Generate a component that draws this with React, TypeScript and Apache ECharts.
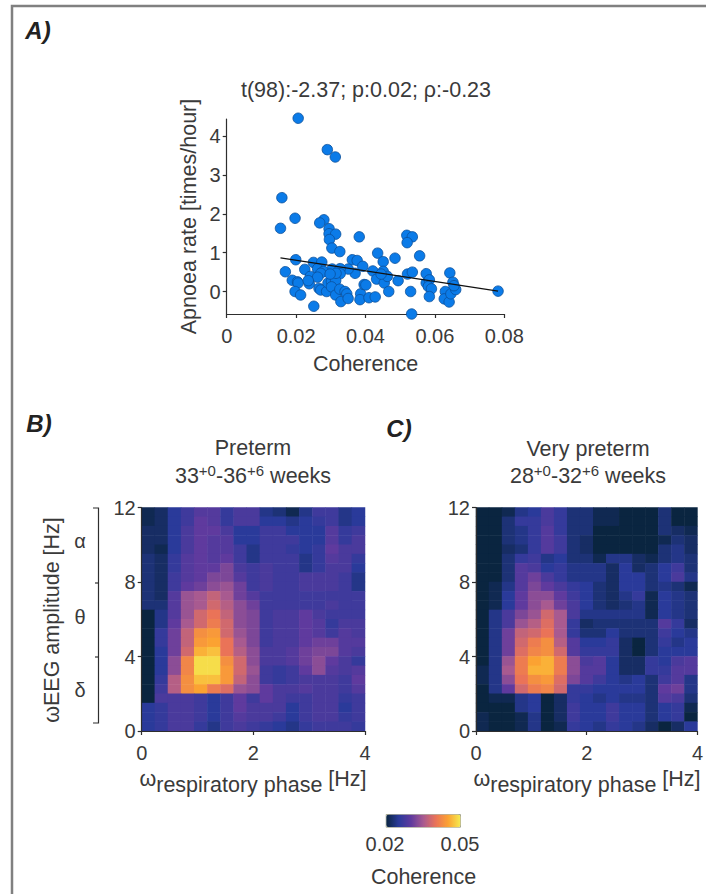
import React, { useEffect, useRef } from "react";
import * as echarts from "echarts";

const coherence = [
  .0206,.029,.0313,.0159,.0155,.0197,.028,.0268,.0295,.0295,.0314,.0296,.0303,.0326,.0382,.0519,.0535,.052,.0435,.0556,
  .0485,.0451,.0199,.025,.0274,.0362,.0376,.0392,.0262,.037,.035,.0304,.0327,.0279,.0271,.0327,.0169,.0225,.0241,.0262,
  .0238,.0189,.0204,.0206,.0197,.0213,.0266,.0271,.0288,.0292,.0302,.0314,.0302,.0314,.0326,.0329,.0341,.0346,.035,.0251,
  .0386,.0384,.041,.0428,.0396,.0401,.0421,.0432,.0451,.0454,.0463,.0467,.0494,.0521,.0535,.053,.0533,.0575,.0575,.0584,
  .0581,.059,.0584,.063,.0627,.0641,.0646,.0643,.0652,.066,.0782,.0315,.0235,.0298,.0445,.0655,
];
const apnoea = [
  4.47,3.66,3.47,2.42,1.63,1.89,1.85,1.77,1.62,1.49,1.48,1.34,1.12,1.03,1.41,1.45,1.41,1.26,.99,.92,
  .86,.77,.82,.75,.76,.82,.8,.65,.59,.47,.58,.58,.59,.52,.47,.46,.51,.57,.39,.37,
  .2,.29,.25,.22,0,-.09,.08,.04,0,.22,.26,.28,.12,-.09,.06,-.26,0,-.06,-.18,-.38,
  -.06,-.21,-.16,-.14,.18,.17,.53,.32,.52,.22,.39,0,.28,.45,.5,0,-.58,.46,.22,.3,
  .13,.07,-.13,0,-.19,-.27,-.06,.48,.24,.05,.01,.47,.28,.45,.45,.15,
];
const fitLine = [[.0155, .87], [.0782, .01]];
const scatterXTicks = [0, .02, .04, .06, .08];
const scatterYTicks = [0, 1, 2, 3, 4];
const hzXTicks = [0, 2, 4];
const hzYTicks = [0, 4, 8, 12];
const colorStops = ["#0a2540", "#2a3a9a", "#5f3a9e", "#a85a90", "#ea7358", "#fba232", "#f5ec50"];

// rows from 12 Hz (top) to 0 Hz (bottom), coherence x 1000
const pretermRows = [
  [21,22,25,27,29,29,26,28,28,24,23,21,24,27,27,24,25],
  [21,22,25,27,30,29,26,28,28,25,25,24,25,26,27,24,25],
  [22,22,25,28,30,30,28,25,25,27,27,25,25,25,29,26,27],
  [22,22,25,28,30,29,29,25,25,27,27,27,25,25,29,26,28],
  [22,21,25,28,30,29,29,27,24,27,27,26,25,26,30,28,28],
  [23,22,26,29,30,29,30,27,24,27,27,27,24,26,29,28,26],
  [23,22,26,29,30,30,32,28,27,28,27,27,24,26,28,28,25],
  [23,22,27,29,30,32,32,29,27,28,27,27,28,28,28,27,24],
  [23,22,27,30,31,33,34,31,27,28,27,27,28,28,28,27,24],
  [23,22,29,34,35,37,35,31,29,27,27,27,27,27,27,27,27],
  [23,23,29,34,35,38,36,33,31,27,27,27,27,27,28,27,27],
  [20,24,29,34,38,40,37,33,32,27,28,28,30,28,27,27,27],
  [20,24,30,35,38,41,38,33,32,27,28,28,30,29,26,28,28],
  [20,26,31,37,43,44,38,34,32,27,28,28,30,29,27,29,28],
  [20,26,31,37,44,45,40,35,32,27,28,28,30,31,31,29,29],
  [20,25,31,38,46,47,40,36,33,28,28,29,31,32,32,29,28],
  [20,25,33,42,49,49,43,38,33,28,28,29,31,33,30,28,26],
  [20,25,33,42,49,49,44,38,34,27,26,27,30,33,29,28,29],
  [20,26,36,43,47,47,44,37,33,27,26,27,28,28,28,27,30],
  [20,27,36,43,45,41,39,34,33,30,28,28,29,28,28,27,29],
  [20,28,28,28,27,25,27,30,27,30,28,27,27,28,28,26,27],
  [25,26,28,28,27,25,27,30,28,28,28,25,27,28,28,25,27],
  [25,26,28,28,27,25,27,29,28,28,27,25,27,28,28,26,27],
  [25,26,28,28,26,24,27,28,27,26,25,24,26,27,27,27,26],
];
const veryPretermRows = [
  [20,20,21,24,25,28,26,23,23,21,21,20,20,20,23,20,20],
  [20,20,23,26,26,28,26,23,23,21,21,20,20,20,23,20,20],
  [20,20,23,24,26,29,26,23,23,20,20,20,20,20,23,22,21],
  [20,20,23,24,26,29,27,23,22,20,20,20,20,20,21,23,22],
  [20,20,22,23,26,29,27,23,22,20,20,20,20,20,23,24,22],
  [20,20,23,26,27,24,25,23,23,21,24,24,22,21,23,24,23],
  [20,20,23,29,28,25,26,24,24,24,22,25,22,23,25,27,23],
  [20,20,23,29,31,28,26,24,24,24,22,25,25,23,25,28,24],
  [20,21,24,29,32,30,28,26,25,23,22,25,25,23,24,23,21],
  [20,21,25,30,33,33,30,27,25,23,22,24,26,21,25,24,23],
  [20,21,25,30,33,35,31,28,25,23,22,23,24,21,25,24,23],
  [20,24,28,32,34,38,35,28,24,24,24,24,24,21,25,24,23],
  [20,24,28,34,36,39,35,26,22,23,23,23,23,23,29,26,22],
  [20,24,31,37,38,40,35,26,23,23,25,23,23,23,27,25,24],
  [20,24,31,38,41,43,36,29,25,25,26,22,20,23,26,24,25],
  [20,24,31,39,42,43,38,29,26,26,26,22,20,23,25,25,25],
  [20,24,34,41,45,46,41,33,28,29,25,22,22,26,25,28,29],
  [21,24,35,41,46,46,41,33,29,29,25,22,22,26,26,29,29],
  [21,24,33,40,43,44,39,32,29,27,25,24,25,23,27,29,24],
  [20,24,30,38,41,42,38,26,26,25,25,25,25,23,30,31,24],
  [20,21,21,24,25,20,22,26,25,24,25,24,24,23,29,28,23],
  [20,20,20,24,25,20,22,27,25,25,27,25,25,23,25,26,21],
  [21,20,20,21,24,20,22,27,25,25,27,25,25,23,25,26,20],
  [21,20,20,21,24,20,21,26,25,24,26,25,24,22,20,22,25],
];

const FONT = "Liberation Sans";
const INK = "#3a3a3a";
const AXIS = "#2e2e2e";
const TICK_SIZE = 20;
const LABEL_SIZE = 21.5;

const cellsOf = (rows: number[][]) =>
  rows.flatMap((row, r) => row.map((v, c) => [c, rows.length - 1 - r, v]));

const catAxis = (gridIndex: number, n: number) => ({
  type: "category", gridIndex, show: false, data: Array.from({ length: n }, (_, i) => String(i)),
});

const valAxis = (gridIndex: number, max: number, ticks: number[], interval: number, pos: string) => ({
  type: "value", gridIndex, position: pos, min: 0, max, interval,
  splitLine: { show: false },
  axisLine: { show: true, onZero: false, lineStyle: { color: AXIS, width: 1.2 } },
  axisTick: { show: true, length: 4, inside: false, lineStyle: { color: AXIS, width: 1.2 } },
  axisLabel: { show: true, margin: pos === "left" ? 6 : 12, color: INK, fontFamily: FONT, fontSize: TICK_SIZE,
    customValues: ticks },
  z: 5,
});

const text = (x: number, y: number, t: string, size: number, extra: any = {}, groupExtra: any = {}) => ({
  type: "text", x, y, silent: true, ...groupExtra,
  style: { text: t, fontFamily: FONT, fontSize: size, fill: INK, textAlign: "center", textVerticalAlign: "middle", ...extra },
});

const supRich = {
  a: { fontFamily: FONT, fontSize: LABEL_SIZE, lineHeight: 24, verticalAlign: "bottom", fill: INK, color: INK },
  s: { fontFamily: FONT, fontSize: 15, lineHeight: 15, verticalAlign: "top", fill: INK, color: INK },
};
const subRich = {
  w: { fontFamily: FONT, fontSize: LABEL_SIZE, lineHeight: 20, verticalAlign: "top", fill: INK, color: INK },
  r: { fontFamily: FONT, fontSize: LABEL_SIZE, lineHeight: 28, verticalAlign: "bottom", fill: INK, color: INK },
};

export default function App() {
  const ref = useRef<HTMLDivElement>(null);
  useEffect(() => {
    const chart = echarts.init(ref.current!, null, { renderer: "svg" });
    const stroke = { stroke: AXIS, lineWidth: 1.2, fill: "none" };
    chart.setOption({
      animation: false,
      backgroundColor: "#ffffff",
      textStyle: { fontFamily: FONT },
      grid: [
        { left: 226.7, top: 119, width: 277.6, height: 195 },
        { left: 141.7, top: 507.5, width: 223.3, height: 223.5 },
        { left: 476, top: 507.5, width: 223, height: 223.5 },
      ],
      xAxis: [
        {
          type: "value", gridIndex: 0, min: 0, max: .08, interval: .02, splitLine: { show: false },
          name: "Coherence", nameLocation: "middle", nameGap: 39,
          nameTextStyle: { color: INK, fontFamily: FONT, fontSize: LABEL_SIZE },
          axisLine: { show: true, onZero: false, lineStyle: { color: AXIS, width: 1.2 } },
          axisTick: { show: true, length: 4, lineStyle: { color: AXIS, width: 1.2 } },
          axisLabel: { margin: 12, color: INK, fontFamily: FONT, fontSize: TICK_SIZE, customValues: scatterXTicks,
            formatter: (v: number) => (v === 0 ? "0" : v.toFixed(2)) },
        },
        catAxis(1, 17), valAxis(1, 4, hzXTicks, 2, "bottom"),
        catAxis(2, 17), valAxis(2, 4, hzXTicks, 2, "bottom"),
      ],
      yAxis: [
        {
          type: "value", gridIndex: 0, min: -.58, max: 4.45, splitLine: { show: false },
          name: "Apnoea rate [times/hour]", nameLocation: "middle", nameGap: 27, nameRotate: 90,
          nameTextStyle: { color: INK, fontFamily: FONT, fontSize: LABEL_SIZE },
          axisLine: { show: true, onZero: false, lineStyle: { color: AXIS, width: 1.2 } },
          axisTick: { show: true, length: 4, lineStyle: { color: AXIS, width: 1.2 }, customValues: scatterYTicks },
          axisLabel: { margin: 6, color: INK, fontFamily: FONT, fontSize: TICK_SIZE, customValues: scatterYTicks },
        },
        catAxis(1, 24), valAxis(1, 12, hzYTicks, 4, "left"),
        catAxis(2, 24), valAxis(2, 12, hzYTicks, 4, "left"),
      ],
      visualMap: {
        type: "continuous", seriesIndex: [2, 3], min: 20, max: 50, orient: "horizontal",
        left: 385.7, top: 814, itemWidth: 12.7, itemHeight: 74.3, padding: 0, text: null,
        calculable: false, hoverLink: false, showLabel: false,
        borderColor: "#a8a890", borderWidth: 1,
        inRange: { color: colorStops },
      },
      series: [
        {
          type: "line", xAxisIndex: 0, yAxisIndex: 0, data: fitLine, showSymbol: false, symbol: "none", clip: false,
          lineStyle: { color: "#111", width: 1.2 }, z: 4,
        },
        {
          type: "scatter", xAxisIndex: 0, yAxisIndex: 0, clip: false, symbolSize: 10.5, z: 3,
          data: coherence.map((x, i) => [x, apnoea[i]]),
          itemStyle: { color: "#0b7be8", borderColor: "#0a4f9a", borderWidth: 0.8, opacity: 1 },
        },
        {
          type: "heatmap", xAxisIndex: 1, yAxisIndex: 1, data: cellsOf(pretermRows), progressive: 0,
          itemStyle: { borderWidth: 0 }, emphasis: { disabled: true },
        },
        {
          type: "heatmap", xAxisIndex: 3, yAxisIndex: 3, data: cellsOf(veryPretermRows), progressive: 0,
          itemStyle: { borderWidth: 0 }, emphasis: { disabled: true },
        },
      ],
      graphic: [
        { type: "polyline", silent: true, shape: { points: [[12, 894], [12, 6], [706, 6]] },
          style: { stroke: "#808080", lineWidth: 2.5, fill: "none" } },
        text(38, 30, "A)", 24, { fontWeight: "bold", fontStyle: "italic", fill: "#222" }),
        text(39, 423, "B)", 24, { fontWeight: "bold", fontStyle: "italic", fill: "#222" }),
        text(399, 428, "C)", 24, { fontWeight: "bold", fontStyle: "italic", fill: "#222" }),
        text(366, 90, "t(98):-2.37; p:0.02; ρ:-0.23", LABEL_SIZE),
        text(253, 448, "Preterm", LABEL_SIZE),
        text(253, 475, "{a|33}{s|+0}{a|-36}{s|+6}{a| weeks}", LABEL_SIZE, { rich: supRich }),
        text(588, 449, "Very preterm", LABEL_SIZE),
        text(588, 475, "{a|28}{s|+0}{a|-32}{s|+6}{a| weeks}", LABEL_SIZE, { rich: supRich }),
        text(253, 782, "{w|ω}{r|respiratory phase }{w|[Hz]}", LABEL_SIZE, { rich: subRich }),
        text(587, 782, "{w|ω}{r|respiratory phase }{w|[Hz]}", LABEL_SIZE, { rich: subRich }),
        text(52, 620, "ωEEG amplitude [Hz]", LABEL_SIZE, {}, { rotation: Math.PI / 2 }),
        { type: "polyline", silent: true, shape: { points: [[93, 508], [98.5, 508], [98.5, 723], [93, 723]] }, style: stroke },
        { type: "line", silent: true, shape: { x1: 95, y1: 583, x2: 98.5, y2: 583 }, style: stroke },
        { type: "line", silent: true, shape: { x1: 95, y1: 657, x2: 98.5, y2: 657 }, style: stroke },
        text(80, 541, "α", 20),
        text(80, 617, "θ", 20),
        text(80, 690, "δ", 20),
        text(385, 844, "0.02", TICK_SIZE),
        text(460, 844, "0.05", TICK_SIZE),
        text(423.5, 877, "Coherence", LABEL_SIZE),
      ],
    });
    return () => chart.dispose();
  }, []);
  return <div ref={ref} style={{ position: "absolute", left: 0, top: 0, width: 706, height: 894 }} />;
}
